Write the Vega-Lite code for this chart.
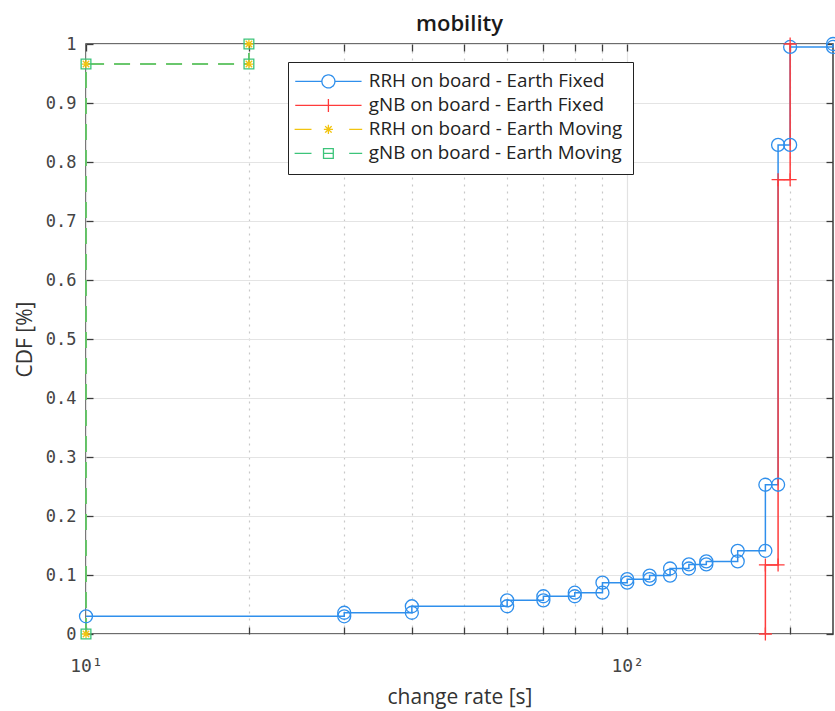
{
  "$schema": "https://vega.github.io/schema/vega-lite/v6.json",
  "width": 747,
  "height": 590,
  "autosize": {"type": "none"},
  "padding": {"left": 86, "top": 44, "right": 2, "bottom": 77},
  "background": "white",
  "title": {"text": "mobility", "font": "Open Sans", "fontSize": 22, "fontWeight": 600, "color": "#1a1a1a", "offset": -1},
  "config": {
    "view": {"stroke": "#3c3c3c", "strokeWidth": 1.5},
    "axis": {
      "domain": false,
      "tickColor": "#3c3c3c",
      "tickWidth": 1.3,
      "tickSize": -7,
      "labelFont": "DejaVu Sans Mono",
      "labelFontSize": 17,
      "labelColor": "#444444",
      "titleFont": "Open Sans",
      "titleFontSize": 21,
      "titleFontWeight": "normal",
      "titleColor": "#333333",
      "gridColor": "#e4e4e4",
      "gridWidth": 1.2
    }
  },
  "datasets": {
    "cdf": [
      {"s": "RRH on board - Earth Fixed", "i": 0, "x": 10, "y": 0.030},
      {"s": "RRH on board - Earth Fixed", "i": 1, "x": 30, "y": 0.030},
      {"s": "RRH on board - Earth Fixed", "i": 2, "x": 30, "y": 0.036},
      {"s": "RRH on board - Earth Fixed", "i": 3, "x": 40, "y": 0.036},
      {"s": "RRH on board - Earth Fixed", "i": 4, "x": 40, "y": 0.047},
      {"s": "RRH on board - Earth Fixed", "i": 5, "x": 60, "y": 0.047},
      {"s": "RRH on board - Earth Fixed", "i": 6, "x": 60, "y": 0.057},
      {"s": "RRH on board - Earth Fixed", "i": 7, "x": 70, "y": 0.057},
      {"s": "RRH on board - Earth Fixed", "i": 8, "x": 70, "y": 0.064},
      {"s": "RRH on board - Earth Fixed", "i": 9, "x": 80, "y": 0.064},
      {"s": "RRH on board - Earth Fixed", "i": 10, "x": 80, "y": 0.070},
      {"s": "RRH on board - Earth Fixed", "i": 11, "x": 90, "y": 0.070},
      {"s": "RRH on board - Earth Fixed", "i": 12, "x": 90, "y": 0.087},
      {"s": "RRH on board - Earth Fixed", "i": 13, "x": 100, "y": 0.087},
      {"s": "RRH on board - Earth Fixed", "i": 14, "x": 100, "y": 0.093},
      {"s": "RRH on board - Earth Fixed", "i": 15, "x": 110, "y": 0.093},
      {"s": "RRH on board - Earth Fixed", "i": 16, "x": 110, "y": 0.099},
      {"s": "RRH on board - Earth Fixed", "i": 17, "x": 120, "y": 0.099},
      {"s": "RRH on board - Earth Fixed", "i": 18, "x": 120, "y": 0.111},
      {"s": "RRH on board - Earth Fixed", "i": 19, "x": 130, "y": 0.111},
      {"s": "RRH on board - Earth Fixed", "i": 20, "x": 130, "y": 0.118},
      {"s": "RRH on board - Earth Fixed", "i": 21, "x": 140, "y": 0.118},
      {"s": "RRH on board - Earth Fixed", "i": 22, "x": 140, "y": 0.123},
      {"s": "RRH on board - Earth Fixed", "i": 23, "x": 160, "y": 0.123},
      {"s": "RRH on board - Earth Fixed", "i": 24, "x": 160, "y": 0.141},
      {"s": "RRH on board - Earth Fixed", "i": 25, "x": 180, "y": 0.141},
      {"s": "RRH on board - Earth Fixed", "i": 26, "x": 180, "y": 0.253},
      {"s": "RRH on board - Earth Fixed", "i": 27, "x": 190, "y": 0.253},
      {"s": "RRH on board - Earth Fixed", "i": 28, "x": 190, "y": 0.829},
      {"s": "RRH on board - Earth Fixed", "i": 29, "x": 200, "y": 0.829},
      {"s": "RRH on board - Earth Fixed", "i": 30, "x": 200, "y": 0.995},
      {"s": "RRH on board - Earth Fixed", "i": 31, "x": 240, "y": 0.995},
      {"s": "RRH on board - Earth Fixed", "i": 32, "x": 240, "y": 1.0},
      {"s": "gNB on board - Earth Fixed", "i": 0, "x": 180, "y": 0.0},
      {"s": "gNB on board - Earth Fixed", "i": 1, "x": 180, "y": 0.117},
      {"s": "gNB on board - Earth Fixed", "i": 2, "x": 190, "y": 0.117},
      {"s": "gNB on board - Earth Fixed", "i": 3, "x": 190, "y": 0.770},
      {"s": "gNB on board - Earth Fixed", "i": 4, "x": 200, "y": 0.770},
      {"s": "gNB on board - Earth Fixed", "i": 5, "x": 200, "y": 1.0},
      {"s": "RRH on board - Earth Moving", "i": 0, "x": 10, "y": 0.0},
      {"s": "RRH on board - Earth Moving", "i": 1, "x": 10, "y": 0.966},
      {"s": "RRH on board - Earth Moving", "i": 2, "x": 20, "y": 0.966},
      {"s": "RRH on board - Earth Moving", "i": 3, "x": 20, "y": 1.0},
      {"s": "gNB on board - Earth Moving", "i": 0, "x": 10, "y": 0.0},
      {"s": "gNB on board - Earth Moving", "i": 1, "x": 10, "y": 0.966},
      {"s": "gNB on board - Earth Moving", "i": 2, "x": 20, "y": 0.966},
      {"s": "gNB on board - Earth Moving", "i": 3, "x": 20, "y": 1.0}
    ]
  },
  "data": {"name": "cdf"},
  "resolve": {"axis": {"x": "independent", "y": "independent"}},
  "layer": [
    {
      "description": "legend source: invisible points whose shape scale holds line-and-marker glyphs",
      "mark": {"type": "point", "filled": false, "opacity": 0, "strokeWidth": 1.3, "size": 169},
      "encoding": {
        "x": {
          "field": "x", "type": "quantitative",
          "scale": {"type": "log", "domain": [10, 240], "nice": false},
          "axis": {
            "title": "change rate [s]",
            "values": [10, 20, 30, 40, 50, 60, 70, 80, 90, 100, 200],
            "labelExpr": "datum.value == 10 ? '10¹' : datum.value == 100 ? '10²' : ''",
            "labelPadding": 30,
            "labelFlush": false,
            "labelFontSize": 18,
            "titlePadding": 11,
            "gridDash": {"condition": {"test": "datum.value == 10 || datum.value == 100", "value": [1, 0]}, "value": [2, 5]},
            "gridColor": {"condition": {"test": "datum.value == 10 || datum.value == 100", "value": "#e2e2e2"}, "value": "#c8c8c8"}
          }
        },
        "y": {
          "field": "y", "type": "quantitative",
          "scale": {"domain": [0, 1], "nice": false, "zero": false},
          "axis": {
            "title": "CDF [%]",
            "values": [0, 0.1, 0.2, 0.3, 0.4, 0.5, 0.6, 0.7, 0.8, 0.9, 1],
            "format": "~g",
            "labelPadding": 17,
            "titlePadding": 10
          }
        },
        "color": {
          "field": "s", "type": "nominal",
          "scale": {
            "domain": ["RRH on board - Earth Fixed", "gNB on board - Earth Fixed", "RRH on board - Earth Moving", "gNB on board - Earth Moving"],
            "range": ["#2f8fec", "#ff3b3b", "#f2c40f", "#3cc47a"]
          },
          "legend": {
            "orient": "none", "legendX": 202, "legendY": 18, "title": null,
            "fillColor": "white", "strokeColor": "#222222", "padding": 10,
            "symbolSize": 169, "symbolStrokeWidth": 1.3, "symbolOpacity": 1, "symbolOffset": 21, "symbolDash": [1, 0],
            "labelFont": "Open Sans", "labelFontSize": 18.8, "labelColor": "#222222", "labelOffset": 31, "labelLimit": 400,
            "rowPadding": 4
          }
        },
        "shape": {
          "field": "s", "type": "nominal",
          "scale": {
            "domain": ["RRH on board - Earth Fixed", "gNB on board - Earth Fixed", "RRH on board - Earth Moving", "gNB on board - Earth Moving"],
            "range": [
              "M-5.1,0H-1M1,0H5.1M1,0A1,1,0,1,1,-1,0A1,1,0,1,1,1,0",
              "M-5.1,0H5.1M0,-1V1",
              "M-5.2,0H-2.6M3.2,0H5.2M-0.7,0H0.7M0,-0.7V0.7M-0.5,-0.5L0.5,0.5M-0.5,0.5L0.5,-0.5",
              "M-5.2,0H-2.6M3.2,0H5.2M-0.75,0H0.75M-0.75,-0.75H0.75V0.75H-0.75Z"
            ]
          },
          "legend": {
            "orient": "none", "legendX": 202, "legendY": 18, "title": null,
            "fillColor": "white", "strokeColor": "#222222", "padding": 10,
            "symbolSize": 169, "symbolStrokeWidth": 1.3, "symbolOpacity": 1, "symbolOffset": 21, "symbolDash": [1, 0],
            "labelFont": "Open Sans", "labelFontSize": 18.8, "labelColor": "#222222", "labelOffset": 31, "labelLimit": 400,
            "rowPadding": 4
          }
        }
      }
    },
    {
      "mark": {"type": "line", "strokeWidth": 1.5, "clip": false},
      "encoding": {
        "x": {"field": "x", "type": "quantitative", "axis": null},
        "y": {"field": "y", "type": "quantitative", "axis": null},
        "order": {"field": "i"},
        "color": {"field": "s", "type": "nominal", "legend": null},
        "strokeDash": {"condition": {"test": "indexof(datum.s, 'Moving') >= 0", "value": [16, 10]}, "value": [1, 0]}
      }
    },
    {
      "transform": [{"filter": "datum.s === 'RRH on board - Earth Fixed'"}],
      "mark": {"type": "point", "shape": "M1,0A1,1,0,1,1,-1,0A1,1,0,1,1,1,0Z", "filled": false, "opacity": 1, "strokeWidth": 1.3, "size": 169, "clip": false},
      "encoding": {
        "x": {"field": "x", "type": "quantitative", "axis": null},
        "y": {"field": "y", "type": "quantitative", "axis": null},
        "color": {"field": "s", "type": "nominal", "legend": null}
      }
    },
    {
      "transform": [{"filter": "datum.s === 'gNB on board - Earth Fixed'"}],
      "mark": {"type": "point", "shape": "M-1,0H1M0,-1V1", "filled": false, "opacity": 1, "strokeWidth": 1.3, "size": 169, "clip": false},
      "encoding": {
        "x": {"field": "x", "type": "quantitative", "axis": null},
        "y": {"field": "y", "type": "quantitative", "axis": null},
        "color": {"field": "s", "type": "nominal", "legend": null}
      }
    },
    {
      "transform": [{"filter": "datum.s === 'RRH on board - Earth Moving'"}],
      "mark": {"type": "point", "shape": "M-0.7,0H0.7M0,-0.7V0.7M-0.5,-0.5L0.5,0.5M-0.5,0.5L0.5,-0.5", "filled": false, "opacity": 1, "strokeWidth": 1.3, "size": 169, "clip": false},
      "encoding": {
        "x": {"field": "x", "type": "quantitative", "axis": null},
        "y": {"field": "y", "type": "quantitative", "axis": null},
        "color": {"field": "s", "type": "nominal", "legend": null}
      }
    },
    {
      "transform": [{"filter": "datum.s === 'gNB on board - Earth Moving'"}],
      "mark": {"type": "point", "shape": "M-0.75,-0.75H0.75V0.75H-0.75Z", "filled": false, "opacity": 1, "strokeWidth": 1.3, "size": 169, "clip": false},
      "encoding": {
        "x": {"field": "x", "type": "quantitative", "axis": null},
        "y": {"field": "y", "type": "quantitative", "axis": null},
        "color": {"field": "s", "type": "nominal", "legend": null}
      }
    },
    {
      "mark": {"type": "point", "opacity": 0},
      "encoding": {
        "x": {
          "field": "x", "type": "quantitative",
          "axis": {"orient": "top", "title": null, "labels": false, "grid": false, "values": [10, 20, 30, 40, 50, 60, 70, 80, 90, 100, 200]}
        },
        "y": {
          "field": "y", "type": "quantitative",
          "axis": {"orient": "right", "title": null, "labels": false, "grid": false, "values": [0, 0.1, 0.2, 0.3, 0.4, 0.5, 0.6, 0.7, 0.8, 0.9, 1]}
        }
      }
    }
  ]
}
